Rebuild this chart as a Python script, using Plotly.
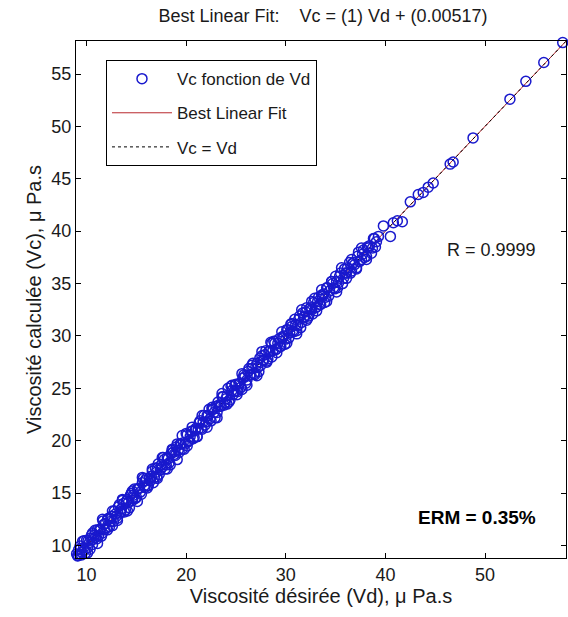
import plotly.graph_objects as go

# ---------------- data ----------------
vd = [9.0, 9.1, 9.2, 9.3, 9.4, 9.5, 9.7, 9.8, 10.0, 10.1, 10.3, 10.4, 10.6, 10.8, 10.9, 11.1, 11.2, 11.4, 11.6, 11.7,
      11.9, 12.0, 12.2, 12.4, 12.5, 12.7, 12.9, 13.0, 13.2, 13.4, 13.5, 13.7, 13.9, 14.0, 14.2, 14.4, 14.6, 14.7, 14.9, 15.1,
      15.2, 15.4, 15.6, 15.8, 15.9, 16.1, 16.3, 16.4, 16.6, 16.8, 17.0, 17.1, 17.3, 17.5, 17.6, 17.8, 18.0, 18.2, 18.3, 18.5,
      18.7, 18.9, 19.0, 19.2, 19.4, 19.6, 19.7, 19.9, 20.1, 20.3, 20.4, 20.6, 20.8, 21.0, 21.2, 21.3, 21.5, 21.7, 21.9, 22.1,
      22.2, 22.4, 22.6, 22.8, 23.0, 23.1, 23.3, 23.5, 23.7, 23.9, 24.0, 24.2, 24.4, 24.6, 24.8, 25.0, 25.1, 25.3, 25.5, 25.7,
      25.9, 26.1, 26.2, 26.4, 26.6, 26.8, 27.0, 27.2, 27.4, 27.5, 27.7, 27.9, 28.1, 28.3, 28.5, 28.7, 28.9, 29.0, 29.2, 29.4,
      29.6, 29.8, 30.0, 30.2, 30.4, 30.6, 30.8, 31.0, 31.2, 31.4, 31.6, 31.8, 32.0, 32.2, 32.4, 32.6, 32.8, 33.0, 33.2, 33.4,
      33.6, 33.8, 34.0, 34.2, 34.4, 34.7, 34.9, 35.1, 35.3, 35.5, 35.8, 36.0, 36.2, 36.5, 36.7, 36.9, 37.2, 37.4, 37.7, 37.9,
      38.2, 38.4, 38.7, 38.9, 39.1, 39.3,
      39.8, 40.5, 40.8, 41.2, 41.7, 42.5, 43.3, 43.8, 44.3, 44.8, 46.5, 46.8, 48.8, 52.5, 54.1, 55.9, 57.8]
vc = [9.2, 9.0, 9.6, 9.2, 9.7, 9.1, 9.8, 9.6, 10.5, 9.8, 10.3, 10.7, 10.1, 11.0, 10.8, 11.5, 10.9, 11.5, 11.2, 12.0,
      12.1, 11.7, 12.6, 12.3, 12.8, 12.3, 13.0, 12.8, 13.7, 13.1, 13.5, 14.0, 13.4, 14.2, 14.1, 14.8, 14.3, 14.8, 14.5, 15.4,
      15.4, 15.1, 16.0, 15.7, 16.2, 15.7, 16.4, 16.2, 17.1, 16.5, 17.0, 17.4, 16.8, 17.7, 17.5, 18.2, 17.7, 18.3, 17.9, 18.8,
      18.9, 18.6, 19.4, 19.1, 19.7, 19.2, 19.8, 19.7, 20.6, 20.0, 20.4, 20.9, 20.3, 21.2, 21.1, 21.7, 21.2, 21.8, 21.5, 22.4,
      22.4, 22.1, 23.0, 22.7, 23.3, 22.7, 23.4, 23.3, 24.2, 23.6, 24.0, 25.0, 23.9, 24.8, 24.7, 25.4, 24.8, 25.4, 25.1, 26.0,
      26.1, 25.8, 26.6, 26.3, 26.9, 26.4, 27.1, 27.0, 27.9, 27.2, 27.7, 28.2, 27.6, 28.5, 29.4, 28.6, 29.3, 28.7, 29.3, 29.0,
      29.9, 30.0, 29.7, 30.6, 30.3, 30.9, 30.4, 31.1, 31.0, 31.9, 31.3, 31.8, 32.3, 31.7, 32.6, 32.5, 33.2, 32.7, 33.3, 33.0,
      33.9, 34.0, 33.7, 34.6, 34.3, 35.0, 34.5, 35.2, 35.1, 36.0, 35.5, 36.0, 36.5, 36.0, 36.9, 36.8, 37.6, 37.1, 37.8, 37.5,
      38.5, 38.6, 38.4, 39.3, 39.0, 39.5,
      40.5, 39.5, 40.8, 41.0, 40.9, 42.8, 43.5, 43.7, 44.2, 44.6, 46.4, 46.6, 48.9, 52.6, 54.3, 56.1, 58.0]

# second, interleaved batch of samples in the dense band
vd2 = [9.15, 9.35, 9.55, 9.75, 9.9, 10.15, 10.35, 10.5, 10.7, 10.85,
       11.05, 11.3, 11.5, 11.65, 11.8, 12.1, 12.3, 12.45, 12.6, 12.8,
       13.1, 13.3, 13.45, 13.6, 13.8, 14.1, 14.3, 14.5, 14.65, 14.8,
       15.0, 15.3, 15.5, 15.7, 15.85, 16.0, 16.2, 16.5, 16.7, 16.9,
       17.05, 17.2, 17.4, 17.7, 17.9, 18.1, 18.4, 18.6, 18.8, 19.1,
       19.3, 19.5, 19.8, 20.0, 20.2, 20.5, 20.7, 20.9, 21.1, 21.4,
       21.6, 21.8, 22.0, 22.3, 22.5, 22.7, 22.9, 23.2, 23.4, 23.6,
       23.8, 24.1, 24.3, 24.5, 24.7, 24.9, 25.2, 25.4, 25.6, 25.8,
       26.0, 26.3, 26.5, 26.7, 26.9, 27.1, 27.3, 27.6, 27.8, 28.0,
       28.2, 28.4, 28.6, 28.8, 29.1, 29.3, 29.5, 29.7, 29.9, 30.1,
       30.3, 30.5, 30.7, 30.9, 31.1, 31.3, 31.5, 31.7, 31.9, 32.1,
       32.3, 32.5, 32.7, 32.9, 33.1, 33.3, 33.5, 33.7, 33.9, 34.1,
       34.3, 34.6, 34.8, 35.0, 35.2, 35.4, 35.7, 35.9, 36.1, 36.4,
       36.6, 36.8, 37.1, 37.3, 37.6, 37.8, 38.1, 38.3, 38.6, 38.8,
       39.0]
vc2 = [9.05, 9.95, 9.35, 10.45, 9.3, 10.45, 9.65, 11.0, 10.6, 11.45,
       10.65, 11.5, 10.9, 12.35, 11.5, 12.5, 11.8, 12.55, 11.9, 13.3,
       12.6, 13.9, 13.25, 14.3, 13.2, 14.4, 13.6, 15.0, 14.55, 15.4,
       14.6, 15.5, 14.9, 16.4, 15.55, 16.4, 15.7, 16.6, 16.0, 17.4,
       16.55, 17.8, 17.2, 18.4, 17.3, 18.4, 17.7, 19.1, 18.7, 19.7,
       18.9, 19.7, 19.2, 20.7, 19.9, 20.9, 20.2, 21.0, 20.4, 21.9,
       21.1, 22.4, 21.8, 23.0, 21.9, 23.0, 22.2, 23.7, 23.3, 24.2,
       23.4, 24.3, 23.7, 25.2, 24.4, 25.3, 24.7, 25.5, 24.9, 26.3,
       25.5, 26.9, 26.3, 27.4, 26.3, 27.4, 26.6, 28.1, 27.7, 28.6,
       27.8, 28.6, 28.0, 29.5, 28.8, 29.7, 29.0, 29.8, 29.2, 30.6,
       29.8, 31.1, 30.5, 31.6, 30.5, 31.6, 30.8, 32.2, 31.8, 32.7,
       31.9, 32.7, 32.1, 33.6, 32.8, 33.7, 33.0, 33.8, 33.2, 34.6,
       33.8, 35.2, 34.6, 35.7, 34.6, 35.7, 35.0, 36.4, 36.0, 37.0,
       36.2, 37.0, 36.5, 38.0, 37.3, 38.2, 37.6, 38.4, 37.9, 39.3,
       38.5]

# third batch: samples on the outer edges of the band
vd3 = [9.6, 10.1, 10.6, 11.1, 11.6, 12.1, 12.6, 13.1, 13.6, 14.1,
       14.6, 15.1, 15.6, 16.1, 16.6, 17.1, 17.6, 18.1, 18.6, 19.1,
       19.6, 20.1, 20.6, 21.1, 21.6, 22.1, 22.6, 23.1, 23.6, 24.1,
       24.6, 25.1, 25.6, 26.1, 26.6, 27.1, 27.6, 28.1, 28.6, 29.1,
       29.6, 30.1, 30.6, 31.1, 31.6, 32.1, 32.6, 33.1, 33.6, 34.1,
       34.6, 35.1, 35.6, 36.1, 36.6, 37.1, 37.6, 38.1]
vc3 = [10.4, 9.3, 11.2, 10.2, 12.5, 11.5, 13.3, 12.4, 14.4, 13.3,
       15.2, 14.2, 16.5, 15.5, 17.3, 16.4, 18.4, 17.3, 19.2, 18.2,
       20.5, 19.5, 21.3, 20.4, 22.4, 21.3, 23.2, 22.2, 24.5, 23.5,
       25.3, 24.4, 26.4, 25.3, 27.2, 26.2, 28.5, 27.5, 29.3, 28.4,
       30.4, 29.3, 31.2, 30.2, 32.5, 31.5, 33.3, 32.4, 34.4, 33.3,
       35.2, 34.2, 36.5, 35.5, 37.3, 36.4, 38.4, 37.3]

fit_slope = 1.0
fit_intercept = 0.00517
r_value = "0.9999"
erm_value = "0.35%"

x_limits = [8.94, 58.13]
y_limits = [8.81, 58.15]
x_ticks = [10, 20, 30, 40, 50]
y_ticks = [10, 15, 20, 25, 30, 35, 40, 45, 50, 55]

FONT = "Liberation Sans, Arial, sans-serif"
INK = "#1a1a1a"

fit_y = [fit_slope * v + fit_intercept for v in x_limits]

fig = go.Figure()

# lines first (beneath the dense markers)
fig.add_trace(go.Scatter(
    x=x_limits, y=fit_y, mode="lines", name="Best Linear Fit",
    line=dict(color="rgb(185,40,45)", width=1),
    legendrank=2, legendgroup="b"))
fig.add_trace(go.Scatter(
    x=x_limits, y=x_limits, mode="lines", name="Vc = Vd",
    line=dict(color="black", width=1, dash="dot"),
    legendrank=3, legendgroup="c"))
fig.add_trace(go.Scatter(
    x=vd + vd2 + vd3, y=vc + vc2 + vc3, mode="markers", name="Vc fonction de Vd",
    marker=dict(symbol="circle-open", size=10, color="rgb(25,25,205)", line=dict(width=1.5)),
    cliponaxis=False, legendrank=1, legendgroup="a"))

fig.update_layout(
    width=568, height=617,
    margin=dict(l=76, r=2, t=41, b=59),
    paper_bgcolor="white", plot_bgcolor="white",
    font=dict(family=FONT, size=18, color=INK),
    title=dict(text="Best Linear Fit:&nbsp;&nbsp;&nbsp;&nbsp;Vc = (1) Vd + (0.00517)",
               x=323 / 568, xanchor="center", y=1 - 16 / 617, yanchor="middle",
               font=dict(size=18, color=INK)),
    showlegend=True,
    legend=dict(x=0.0612, y=0.963, xanchor="left", yanchor="top",
                bgcolor="white", bordercolor="black", borderwidth=1,
                font=dict(size=17, color=INK), traceorder="grouped",
                tracegroupgap=9, itemwidth=60),
)

axis_common = dict(showgrid=False, zeroline=False, showline=True, linecolor="black", linewidth=1,
                   mirror="ticks", ticks="inside", ticklen=5, tickcolor="black", automargin=False,
                   tickfont=dict(size=18, color=INK))
fig.update_xaxes(range=x_limits, tickvals=x_ticks, **axis_common,
                 title=dict(text="Viscosité désirée (Vd), μ Pa.s", font=dict(size=20), standoff=4))
fig.update_yaxes(range=y_limits, tickvals=y_ticks, **axis_common,
                 title=dict(text="Viscosité calculée (Vc), μ Pa.s", font=dict(size=20), standoff=4))

fig.add_annotation(x=0.943, y=0.596, xref="paper", yref="paper", xanchor="right", text="R = " + r_value,
                   showarrow=False, font=dict(size=18, color=INK))
fig.add_annotation(x=0.943, y=0.054, xref="paper", yref="paper", xanchor="right",
                   text="<b>ERM = " + erm_value + "</b>",
                   showarrow=False, font=dict(size=19, color="black"))

# the page is photographed from its top-left corner: drop the default body margin
fig.write_html("out.html", config={"displayModeBar": False},
               post_script="document.body.style.margin='0px';")
